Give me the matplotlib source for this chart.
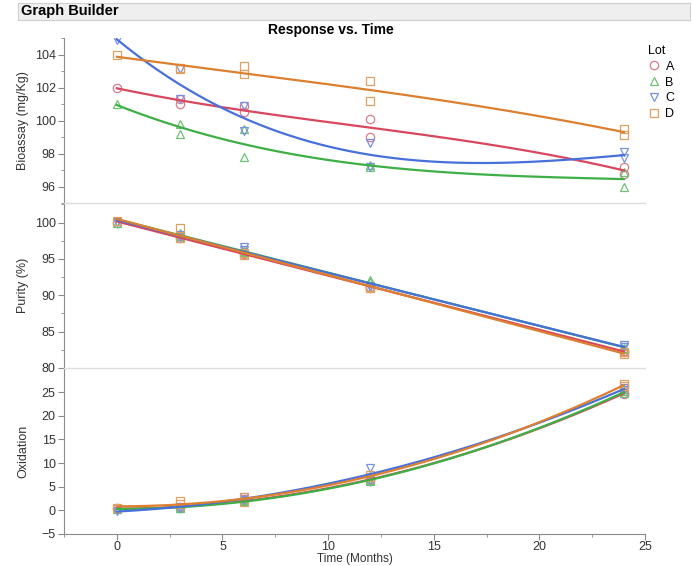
import numpy as np
import matplotlib.pyplot as plt
from matplotlib.patches import Rectangle
from matplotlib.lines import Line2D
from matplotlib.ticker import MultipleLocator

plt.rcParams["font.family"] = ["Liberation Sans", "DejaVu Sans"]

# ============================
# Data
# ============================
LOTS = ["A", "B", "C", "D"]
months = [0, 3, 3, 6, 6, 12, 12, 24, 24]

bioassay_A = [102.0, 101.3, 101.0, 100.85, 100.5, 100.1, 99.0, 97.2, 96.75]
bioassay_B = [101.0, 99.8, 99.2, 99.5, 97.8, 97.3, 97.2, 96.9, 96.0]
bioassay_C = [104.9, 103.1, 101.3, 100.9, 99.35, 98.65, 97.2, 98.1, 97.7]
bioassay_D = [104.0, 103.2, 103.1, 103.3, 102.8, 102.4, 101.2, 99.5, 99.1]

purity_A = [100.0, 97.9, 98.1, 95.9, 95.7, 91.2, 91.0, 82.4, 82.2]
purity_B = [100.0, 98.6, 98.2, 96.1, 95.9, 92.1, 91.8, 82.8, 82.6]
purity_C = [100.1, 98.3, 98.0, 96.6, 96.3, 91.3, 91.1, 83.1, 82.9]
purity_D = [100.2, 99.3, 97.9, 95.8, 95.6, 91.2, 91.0, 82.2, 81.9]

oxidation_A = [0.4, 0.5, 0.7, 2.0, 2.4, 6.3, 6.6, 24.6, 24.9]
oxidation_B = [0.3, 0.5, 0.6, 1.9, 2.2, 6.2, 6.5, 24.8, 25.2]
oxidation_C = [-0.1, 0.5, 0.8, 2.1, 2.8, 9.0, 6.4, 25.5, 25.8]
oxidation_D = [0.5, 1.9, 1.3, 2.8, 1.8, 7.4, 7.0, 26.8, 26.2]

# label, series, y-limits, major ticks, minor step, smoother degree
RESPONSES = [
    ("Bioassay (mg/Kg)", [bioassay_A, bioassay_B, bioassay_C, bioassay_D],
     (95, 105), np.arange(96, 105, 2), 1, 3),
    ("Purity (%)", [purity_A, purity_B, purity_C, purity_D],
     (80, 102.7), np.arange(80, 101, 5), 2.5, 1),
    ("Oxidation", [oxidation_A, oxidation_B, oxidation_C, oxidation_D],
     (-5, 30.1), np.arange(-5, 26, 5), None, 2),
]

LINE_COLORS = {"A": "#D9475E", "B": "#3DAF45", "C": "#4870DA", "D": "#DC8030"}
MARK_COLORS = {"A": "#DB7A8A", "B": "#6CC275", "C": "#7790E0", "D": "#E0A060"}
MARKERS = {"A": "o", "B": "^", "C": "v", "D": "s"}
AXIS_GRAY = "#8a8a8a"
TEXT_GRAY = "#333333"

fig = plt.figure(figsize=(6.92, 5.66), dpi=100)

# header bar
fig.patches.append(Rectangle((18 / 692, 1 - 20 / 566), 672 / 692, 17 / 566,
                             transform=fig.transFigure, facecolor="#efefef",
                             edgecolor="#cfcfcf", linewidth=0.8))
fig.text(21 / 692, 1 - 11.5 / 566, "Graph Builder", fontsize=10.5, fontweight="bold",
         va="center", ha="left")
fig.text(331 / 692, 1 - 30 / 566, "Response vs. Time", fontsize=10, fontweight="bold",
         va="center", ha="center")

left, right = 64 / 692, 645 / 692
edges = [38, 203, 368, 534]
axes = []
xfit = np.linspace(0, 24, 200)
t = np.array(months, dtype=float)

for i, (label, series, ylim, majors, minor, deg) in enumerate(RESPONSES):
    top = 1 - edges[i] / 566
    bot = 1 - edges[i + 1] / 566
    ax = fig.add_axes([left, bot, right - left, top - bot])
    axes.append(ax)
    for lot, vals in zip(LOTS, series):
        y = np.array(vals, dtype=float)
        ax.plot(t, y, linestyle="none", marker=MARKERS[lot], markersize=6,
                markerfacecolor="none", markeredgecolor=MARK_COLORS[lot],
                markeredgewidth=0.9, zorder=2)
        coef = np.polyfit(t, y, deg)
        ax.plot(xfit, np.polyval(coef, xfit), color=LINE_COLORS[lot], linewidth=1.6, zorder=3)

    ax.set_xlim(-2.5, 25)
    ax.set_ylim(*ylim)
    ax.set_yticks(majors)
    if minor:
        ax.yaxis.set_minor_locator(MultipleLocator(minor))
    ax.set_ylabel(label, fontsize=9, color=TEXT_GRAY)
    ax.yaxis.set_label_coords(-(64 - 29) / 581, 0.5)
    ax.spines["right"].set_visible(False)
    ax.spines["top"].set_visible(False)
    ax.spines["left"].set_color(AXIS_GRAY)
    ax.spines["bottom"].set_color(AXIS_GRAY)
    if i < 2:
        ax.spines["bottom"].set_visible(False)
        ax.tick_params(axis="x", bottom=False, labelbottom=False)
    ax.tick_params(axis="both", which="both", colors=AXIS_GRAY, labelcolor=TEXT_GRAY,
                   labelsize=9, direction="out", pad=2)
    ax.tick_params(axis="both", which="major", length=4)
    ax.tick_params(axis="both", which="minor", length=2.5)

axes[2].xaxis.set_major_locator(MultipleLocator(5))
axes[2].xaxis.set_minor_locator(MultipleLocator(2.5))
axes[2].tick_params(axis="x", pad=1)
fig.text(355 / 692, 1 - 559 / 566, "Time (Months)", fontsize=8.5, color=TEXT_GRAY,
         ha="center", va="center")

# separator lines between panels
for e in edges[1:3]:
    fig.lines.append(Line2D([left, right], [1 - e / 566] * 2, transform=fig.transFigure,
                            color="#dcdcdc", linewidth=1.0))

handles = [Line2D([], [], linestyle="none", marker=MARKERS[l], markersize=6,
                  markerfacecolor="none", markeredgecolor=MARK_COLORS[l],
                  markeredgewidth=0.9, label=l) for l in LOTS]
leg = fig.legend(handles=handles, title="Lot", loc="upper left",
                 bbox_to_anchor=(643 / 692, 1 - 40 / 566), frameon=False,
                 fontsize=9, title_fontsize=9, handlelength=1.0,
                 handletextpad=0.4, labelspacing=0.3, borderaxespad=0)
leg._legend_box.align = "left"

fig.savefig("out.png", dpi=100, facecolor="white")
